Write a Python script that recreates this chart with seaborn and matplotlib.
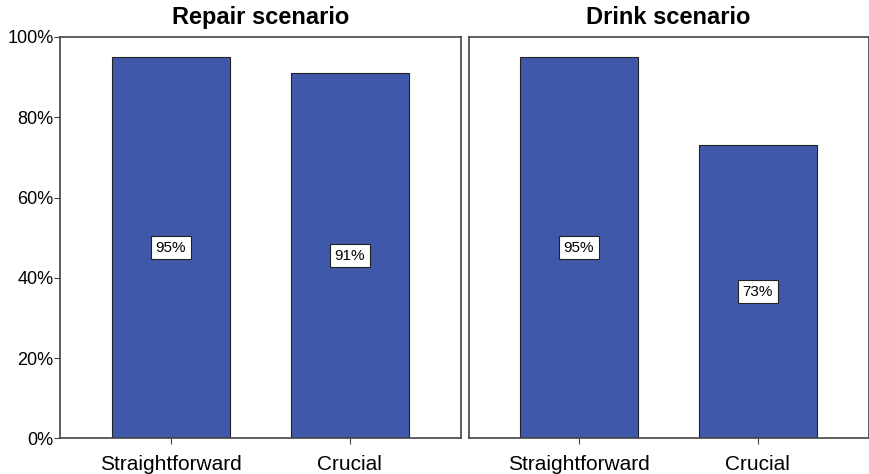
import matplotlib
matplotlib.use("Agg")
import matplotlib.pyplot as plt
import seaborn as sns
import pandas as pd
from matplotlib.ticker import PercentFormatter

# Values
scenarios = ["Repair scenario", "Drink scenario"]
conditions = ["Straightforward", "Crucial"]
repair_pct = [95, 91]
drink_pct = [95, 73]

df = pd.DataFrame({
    "scenario": [scenarios[0]] * 2 + [scenarios[1]] * 2,
    "condition": conditions * 2,
    "pct": repair_pct + drink_pct,
})

sns.set_style("ticks")
plt.rcParams["font.family"] = ["Liberation Sans", "DejaVu Sans"]

fig, axes = plt.subplots(1, 2, figsize=(8.7, 4.74), dpi=100, sharey=True)
fig.subplots_adjust(left=0.0695, right=0.9985, top=0.922, bottom=0.075, wspace=0.02)

bar_color = "#3F58AA"
for ax, name in zip(axes, scenarios):
    sub = df[df["scenario"] == name]
    sns.barplot(data=sub, x="condition", y="pct", order=conditions, color=bar_color,
                width=0.66, edgecolor="#222222", linewidth=0.8, saturation=1, ax=ax)
    for patch, val in zip(ax.patches, sub["pct"]):
        ax.text(patch.get_x() + patch.get_width() / 2, val / 2, f"{val}%",
                ha="center", va="center", fontsize=11, color="black",
                bbox=dict(boxstyle="square,pad=0.3", facecolor="white",
                          edgecolor="#222222", linewidth=0.8))
    ax.set_title(name, fontsize=17, fontweight="bold", pad=9, color="black")
    ax.set_xlabel("")
    ax.set_ylabel("")
    ax.set_xlim(-0.617, 1.62)
    ax.set_ylim(0, 100)
    for s in ax.spines.values():
        s.set_visible(True)
        s.set_color("#444444")
        s.set_linewidth(1.2)
    ax.tick_params(axis="x", labelsize=15, length=4, color="#444444", pad=8,
                   labelcolor="black")
    ax.tick_params(axis="y", labelsize=13, length=4, color="#444444", pad=1,
                   labelcolor="black")

axes[0].set_yticks([0, 20, 40, 60, 80, 100])
axes[0].yaxis.set_major_formatter(PercentFormatter(decimals=0))
axes[1].tick_params(axis="y", left=False, labelleft=False)

fig.savefig("out.png", dpi=100)
